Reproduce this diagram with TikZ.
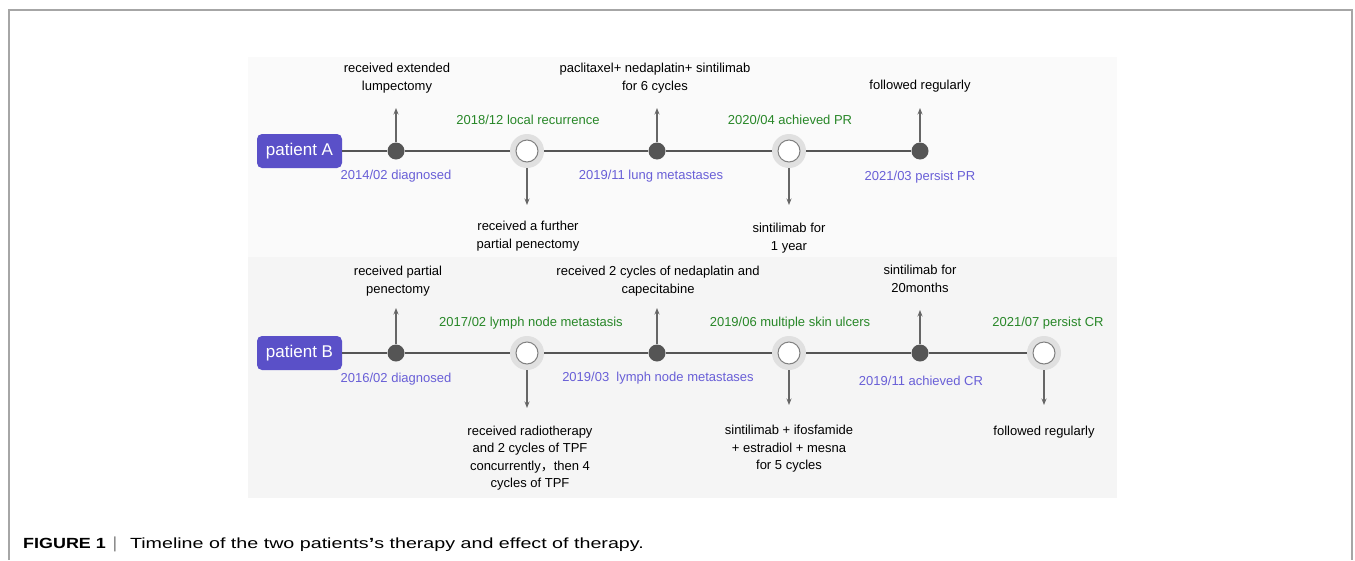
\documentclass[tikz,border=0pt]{standalone}
\usepackage{fontspec}
\usepackage{graphicx}
\setmainfont{Liberation Sans}
\newfontfamily\cjk{Noto Sans CJK SC}
\usetikzlibrary{arrows.meta}

\definecolor{evgreen}{RGB}{40,135,40}
\definecolor{evblue}{RGB}{105,95,215}
\definecolor{boxblue}{RGB}{90,80,200}
\definecolor{linegray}{RGB}{85,85,85}

\tikzset{
  patbox/.style={rounded corners=5pt, fill=boxblue, text=white, minimum width=85pt,
    minimum height=34pt, font=\fontsize{17}{20}\selectfont},
  dot/.style={circle, fill=linegray, inner sep=0pt, minimum size=17pt},
  ring/.style={circle, fill=black!12, inner sep=0pt, minimum size=34pt,
    path picture={\draw[gray, fill=white, line width=1pt]
      (path picture bounding box.center) circle (11pt);}},
  mainline/.style={draw=linegray, line width=2pt},
  tip/.style={draw=black!60, line width=1.1pt, -{Stealth[length=6.5pt,width=5pt]}},
  evtop/.style={text=evgreen},
  evbot/.style={text=evblue},
}

\begin{document}
\begin{tikzpicture}[x=1pt, y=-1pt, font=\fontsize{13}{17.5}\selectfont, align=center]
    \useasboundingbox (0,0) rectangle (1355,560);
    % frame and panels
    \draw[black!35, line width=1.5pt] (9,560) -- (9,10) -- (1352,10) -- (1352,560);
    \fill[black!2] (248,57) rectangle (1117,257);
    \fill[black!4] (248,257) rectangle (1117,498);

    % patient A
    \node[patbox] (pa) at (299.5,151) {patient A};
    \node[dot] (a1) at (396,151) {};
    \node[ring] (a2) at (527,151) {};
    \node[dot] (a3) at (657,151) {};
    \node[ring] (a4) at (789,151) {};
    \node[dot] (a5) at (920,151) {};
    \draw[mainline] (pa) -- (a1) -- (a2) -- (a3) -- (a4) -- (a5);

    \draw[tip] (a1) -- ++(0,-43);
    \draw[tip] (a2) -- ++(0,54);
    \draw[tip] (a3) -- ++(0,-43);
    \draw[tip] (a4) -- ++(0,54);
    \draw[tip] (a5) -- ++(0,-43);

    \node (a1t) at (397,78) {received extended\\lumpectomy};
    \node[evtop] (a2t) at (528,120) {2018/12 local recurrence};
    \node (a3t) at (655,78) {paclitaxel+ nedaplatin+ sintilimab\\for 6 cycles};
    \node[evtop] (a4t) at (790,120) {2020/04 achieved PR};
    \node (a5t) at (920,86) {followed regularly};

    \node[evbot] (a1b) at (396,176) {2014/02 diagnosed};
    \node (a2b) at (528,236) {received a further\\partial penectomy};
    \node[evbot] (a3b) at (651,176) {2019/11 lung metastases};
    \node (a4b) at (789,238) {sintilimab for\\1 year};
    \node[evbot] (a5b) at (920,177) {2021/03 persist PR};

    % patient B
    \node[patbox] (pb) at (299.5,353) {patient B};
    \node[dot] (b1) at (396,353) {};
    \node[ring] (b2) at (527,353) {};
    \node[dot] (b3) at (657,353) {};
    \node[ring] (b4) at (789,353) {};
    \node[dot] (b5) at (920,353) {};
    \node[ring] (b6) at (1044,353) {};
    \draw[mainline] (pb) -- (b1) -- (b2) -- (b3) -- (b4) -- (b5) -- (b6);

    \draw[tip] (b1) -- ++(0,-45);
    \draw[tip] (b2) -- ++(0,55);
    \draw[tip] (b3) -- ++(0,-45);
    \draw[tip] (b4) -- ++(0,52);
    \draw[tip] (b5) -- ++(0,-43);
    \draw[tip] (b6) -- ++(0,52);

    \node (b1t) at (398,281) {received partial\\penectomy};
    \node[evtop] (b2t) at (531,323) {2017/02 lymph node metastasis};
    \node (b3t) at (658,281) {received 2 cycles of nedaplatin and\\capecitabine};
    \node[evtop] (b4t) at (790,323) {2019/06 multiple skin ulcers};
    \node (b5t) at (920,279) {sintilimab for\\20months};
    \node[evtop] (b6t) at (1048,323) {2021/07 persist CR};

    \node[evbot] (b1b) at (396,379) {2016/02 diagnosed};
    \node (b2b) at (530,458) {received radiotherapy\\and 2 cycles of TPF\\concurrently{\cjk ，}then 4\\cycles of TPF};
    \node[evbot] (b3b) at (658,378) {2019/03\ \ lymph node metastases};
    \node (b4b) at (789,449) {sintilimab + ifosfamide\\+ estradiol + mesna\\for 5 cycles};
    \node[evbot] (b5b) at (921,381) {2019/11 achieved CR};
    \node (b6b) at (1044,432) {followed regularly};

    % caption
    \node[anchor=west, inner sep=0pt, font=\fontsize{16}{18}\selectfont] (cap) at (23,544)
      {\scalebox{1.12}[0.92]{\textbf{FIGURE 1}}\hspace{7pt}{\color{black!55}|}\hspace{13pt}\scalebox{1.23}[0.92]{Timeline of the two patients{\bfseries’}s therapy and effect of therapy.}};
\end{tikzpicture}
\end{document}
